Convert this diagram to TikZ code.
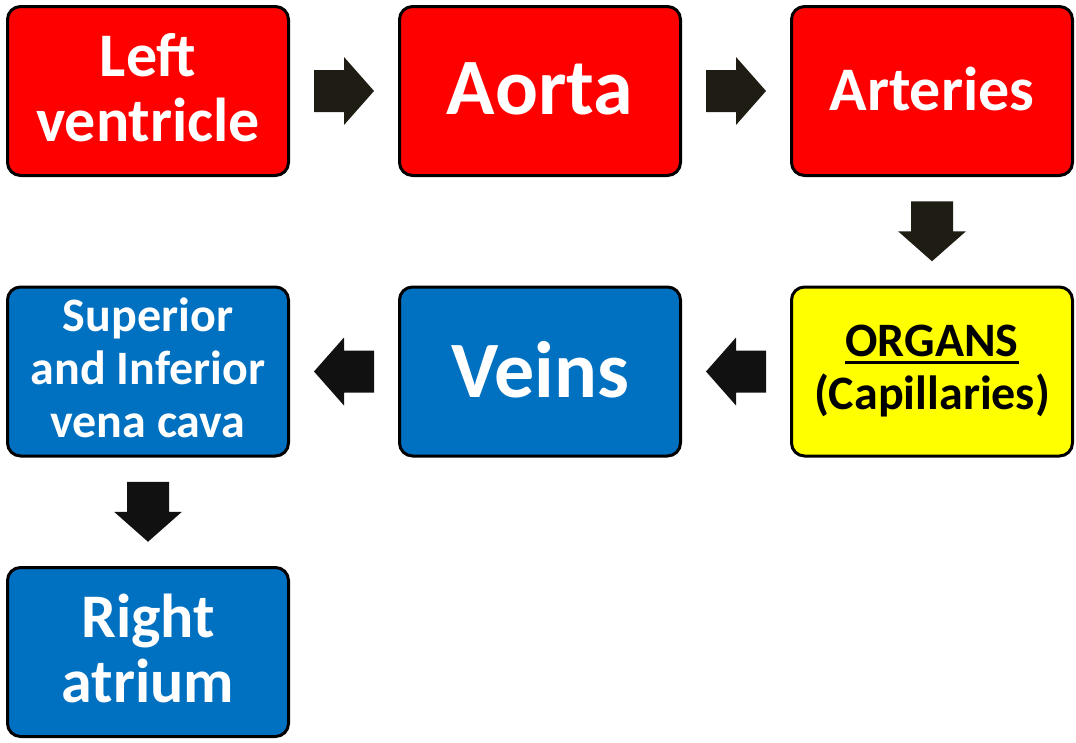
\documentclass[tikz,border=0pt]{standalone}
\usepackage{fontspec}
\setmainfont{Carlito}
\usetikzlibrary{calc}
\definecolor{boxred}{HTML}{FF0000}
\definecolor{boxblue}{HTML}{0070C0}
\definecolor{boxyellow}{HTML}{FFFF00}
\definecolor{arrdark}{HTML}{1F1C13}
\definecolor{arrblack}{HTML}{111111}
\newcommand\myul[1]{\setbox0\hbox{#1}\rlap{\rule[-7pt]{\wd0}{2.5pt}}\box0}
\begin{document}
\begin{tikzpicture}[x=1pt,y=-1pt,
  stage/.style={draw=black, line width=3pt, rounded corners=13pt, minimum width=281pt, minimum height=169pt, inner sep=0pt, align=center, text=white},
  big/.style={font=\fontsize{80}{84}\selectfont\bfseries, text depth=5pt},
  mid/.style={font=\fontsize{62}{65}\selectfont\bfseries, text depth=8pt},
  small/.style={font=\fontsize{48}{53}\selectfont\bfseries},
  blockarr/.pic={\fill[pic actions] (-30,-21) -- (0,-21) -- (0,-34) -- (30,0) -- (0,34) -- (0,21) -- (-30,21) -- cycle;}
]
\useasboundingbox (0,0) rectangle (1076,742);
\node[stage, fill=boxred, mid] (lv) at (148,91) {Left\\ventricle};
\node[stage, fill=boxred, big] (ao) at (540,91) {Aorta};
\node[stage, fill=boxred, mid, text depth=5pt] (ar) at (932,91) {Arteries};
\node[stage, fill=boxyellow, small, text=black] (org) at (932,371.5) {\myul{ORGANS}\\(Capillaries)};
\node[stage, fill=boxblue, big] (vn) at (540,371.5) {Veins};
\node[stage, fill=boxblue, small, text depth=7pt] (vc) at (148,371.5) {Superior\\and Inferior\\vena cava};
\node[stage, fill=boxblue, mid] (ra) at (148,652) {Right\\atrium};
\path ($(lv.east)!0.5!(ao.west)$) pic[fill=arrdark] {blockarr};
\path ($(ao.east)!0.5!(ar.west)$) pic[fill=arrdark] {blockarr};
\path ($(ar.south)!0.5!(org.north)$) pic[fill=arrdark, rotate=-90] {blockarr};
\path ($(org.west)!0.5!(vn.east)$) pic[fill=arrblack, rotate=180] {blockarr};
\path ($(vn.west)!0.5!(vc.east)$) pic[fill=arrblack, rotate=180] {blockarr};
\path ($(vc.south)!0.5!(ra.north)$) pic[fill=arrblack, rotate=-90] {blockarr};
\end{tikzpicture}
\end{document}
